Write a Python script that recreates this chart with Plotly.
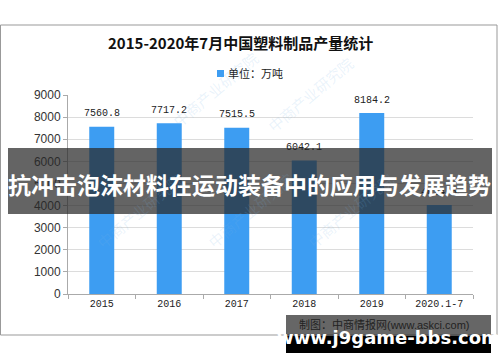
import plotly.graph_objects as go

categories = ["2015", "2016", "2017", "2018", "2019", "2020.1-7"]
values = [7560.8, 7717.2, 7515.5, 6042.1, 8184.2, 4024.6]
value_labels = ["7560.8", "7717.2", "7515.5", "6042.1", "8184.2", "4024.6"]
tick_labels = ["2015", "2016", "2017", "2018", "2019", "2020.1-7"]
y_ticks = [0, 1000, 2000, 3000, 4000, 5000, 6000, 7000, 8000, 9000]

W, H = 500, 362
L, R, T, B = 68, 473, 95, 294


def px(x):
    return (x - L) / (R - L)


def py(y):
    return (B - y) / (B - T)


BAR = "#3d9df2"

fig = go.Figure()
fig.add_trace(go.Bar(
    x=categories, y=values, name="单位：万吨",
    marker=dict(color=BAR, line=dict(width=0)),
    width=0.37,
))

fig.update_layout(
    width=W, height=H,
    margin=dict(l=L, r=W - R, t=T, b=H - B, autoexpand=False),
    paper_bgcolor="white", plot_bgcolor="white",
    showlegend=False,
    xaxis=dict(type="category", categoryarray=categories, range=[-0.5, len(categories) - 0.5],
               tickvals=categories, ticktext=tick_labels, showline=True, linecolor="#aaa",
               ticks="outside", tickson="boundaries", ticklen=4, tickcolor="#aaa",
               tickfont=dict(family="Liberation Mono, DejaVu Sans Mono", size=10, color="#222"),
               showgrid=False, automargin=False),
    yaxis=dict(range=[0, 9000], tickvals=y_ticks, showline=True, linecolor="#aaa",
               ticks="outside", ticklen=4, tickcolor="#aaa", gridcolor="#dcdcdc",
               tickfont=dict(family="Liberation Sans, Arial", size=12, color="#333"),
               zeroline=False, automargin=False),
)

shapes = []
annotations = []

# value labels above bars (x given as category index on the category axis)
for i, (v, t) in enumerate(zip(values, value_labels)):
    annotations.append(dict(text=t, x=i, y=v, xref="x", yref="y", yshift=13, showarrow=False,
                            xanchor="center", yanchor="middle",
                            font=dict(family="Liberation Mono, DejaVu Sans Mono", size=10, color="#222")))

# chart frame
shapes.append(dict(type="rect", xref="paper", yref="paper", x0=px(0.5), x1=px(497), y0=py(25), y1=py(335),
                   line=dict(color="#999", width=1), fillcolor="rgba(0,0,0,0)", layer="below"))

# title
annotations.append(dict(text="<b>2015-2020年7月中国塑料制品产量统计</b>", xref="paper", yref="paper",
                        x=px(240), y=py(43), showarrow=False, xanchor="center", yanchor="middle",
                        font=dict(family="Noto Sans CJK SC", size=15, color="#111")))

# legend (square + text)
shapes.append(dict(type="rect", xref="paper", yref="paper", x0=px(217), x1=px(224), y0=py(70), y1=py(77),
                   line=dict(width=0), fillcolor=BAR))
annotations.append(dict(text="单位：万吨", xref="paper", yref="paper", x=px(226), y=py(73.5),
                        showarrow=False, xanchor="left", yanchor="middle",
                        font=dict(family="Noto Sans CJK SC", size=11, color="#222")))

# watermarks
for (wx, wy) in [(215, 45), (360, 50), (250, 255), (400, 255), (90, 255)]:
    annotations.append(dict(text="中商产业研究院", xref="paper", yref="paper", x=px(wx), y=py(wy),
                            showarrow=False, textangle=-40,
                            font=dict(family="Noto Sans CJK SC", size=15, color="rgba(120,180,230,0.16)")))

# dark band
shapes.append(dict(type="rect", xref="paper", yref="paper", x0=px(8), x1=px(492), y0=py(148), y1=py(214),
                   line=dict(width=0), fillcolor="rgba(40,40,40,0.72)", layer="above"))
annotations.append(dict(text="<b>抗冲击泡沫材料在运动装备中的应用与发展趋势</b>", xref="paper", yref="paper",
                        x=px(249), y=py(184), showarrow=False, xanchor="center", yanchor="middle",
                        font=dict(family="Noto Sans CJK SC", size=23, color="white")))

# source text
annotations.append(dict(text="制图：中商情报网<span style='font-family:Liberation Sans'>(www.askci.com)</span>",
                        xref="paper", yref="paper",
                        x=px(384), y=py(324), showarrow=False, xanchor="center", yanchor="middle",
                        font=dict(family="Noto Sans CJK SC", size=11, color="#222")))

# bottom box
shapes.append(dict(type="rect", xref="paper", yref="paper", x0=px(286), x1=px(491), y0=py(315), y1=py(336),
                   line=dict(width=0), fillcolor="rgba(30,30,30,0.68)", layer="above"))
shapes.append(dict(type="rect", xref="paper", yref="paper", x0=px(286), x1=px(491), y0=py(336), y1=py(353),
                   line=dict(width=0), fillcolor="black", layer="above"))
annotations.append(dict(text="<b>www.j9game-bbs.com</b>", xref="paper", yref="paper",
                        x=px(388), y=py(337), showarrow=False, xanchor="center", yanchor="middle",
                        font=dict(family="DejaVu Sans", size=18, color="white")))

fig.update_layout(shapes=shapes, annotations=annotations)
fig.write_html("out.html", config={"displayModeBar": False},
               post_script="document.body.style.margin='0';document.body.style.padding='0';")
